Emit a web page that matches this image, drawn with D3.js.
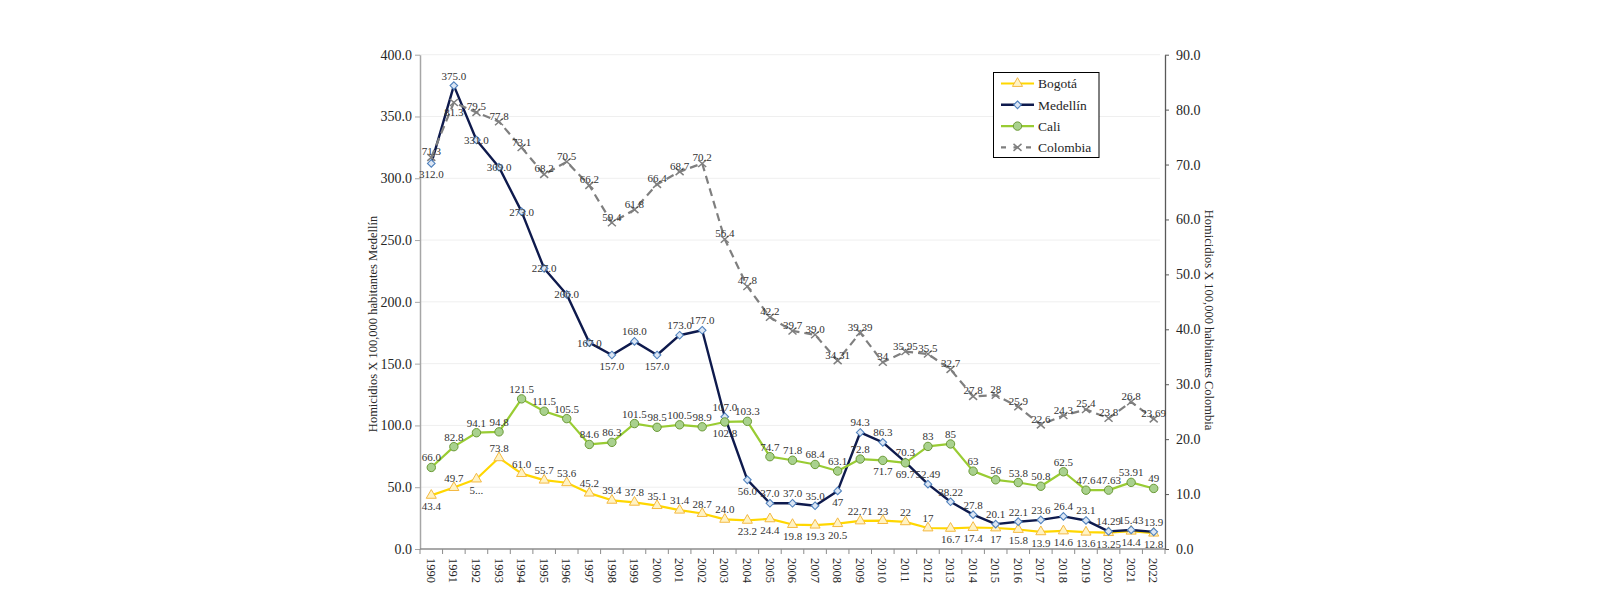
<!DOCTYPE html>
<html><head><meta charset="utf-8">
<script src="https://cdn.jsdelivr.net/npm/d3@7"></script>
<style>body{margin:0;background:#fff}text{font-family:"Liberation Serif","DejaVu Serif",serif}</style>
</head><body>
<svg id="c" width="1600" height="606"></svg>
<script>
const years = ["1990","1991","1992","1993","1994","1995","1996","1997","1998","1999","2000","2001","2002","2003","2004","2005","2006","2007","2008","2009","2010","2011","2012","2013","2014","2015","2016","2017","2018","2019","2020","2021","2022"];
const bogota   = [43.4,49.7,56.6,73.8,61.0,55.7,53.6,45.2,39.4,37.8,35.1,31.4,28.7,24.0,23.2,24.4,19.8,19.3,20.5,22.71,23,22,17,16.7,17.4,17,15.8,13.9,14.6,13.6,13.25,14.4,12.8];
const medellin = [312.0,375.0,331.0,309.0,273.0,227.0,206.0,167.0,157.0,168.0,157.0,173.0,177.0,107.0,56.0,37.0,37.0,35.0,47,94.3,86.3,70.3,52.49,38.22,27.8,20.1,22.1,23.6,26.4,23.1,14.29,15.43,13.9];
const cali     = [66.0,82.8,94.1,94.8,121.5,111.5,105.5,84.6,86.3,101.5,98.5,100.5,98.9,102.8,103.3,74.7,71.8,68.4,63.1,72.8,71.7,69.7,83,85,63,56,53.8,50.8,62.5,47.6,47.63,53.91,49];
const colombia = [71.3,81.3,79.5,77.8,73.1,68.2,70.5,66.2,59.4,61.8,66.4,68.7,70.2,56.4,47.8,42.2,39.7,39.0,34.31,39.39,34,35.95,35.5,32.7,27.8,28,25.9,22.6,24.3,25.4,23.8,26.8,23.69];
// last year whose label is shown with one fixed decimal
const bogotaFixedUntil = "2008", medellinFixedUntil = "2007", caliFixedUntil = "2011", colombiaFixedUntil = "2007";
const bogotaLabelOverride = {"1992":"5..."};
// label placement: a = above, b = below, c = centre
const bogotaPos   = ["b","a","b","a","a","a","a","a","a","a","a","a","a","a","b","b","b","b","b","a","a","a","a","b","b","b","b","b","b","b","b","b","b"];
const medellinPos = ["b","a","c","c","c","c","c","c","b","a","b","a","a","a","b","a","a","a","b","a","a","a","a","a","a","a","a","a","a","a","a","a","a"];
const caliPos     = ["a","a","a","a","a","a","a","a","a","a","a","a","a","b","a","a","a","a","a","a","b","b","a","a","a","a","a","a","a","a","a","a","a"];
const colombiaPos = ["a","b","a","a","a","a","a","a","a","a","a","a","a","a","a","a","a","a","a","a","a","a","a","a","a","a","a","a","a","a","a","a","a"];
const leftTicks  = [0,50,100,150,200,250,300,350,400];
const rightTicks = [0,10,20,30,40,50,60,70,80,90];
const seriesNames = ["Bogotá","Medellín","Cali","Colombia"];
const leftTitle  = "Homicidios X 100,000 habitantes Medellín";
const rightTitle = "Homicidios X 100,000 habitantes Colombia";

const svg = d3.select("#c");
const X0 = 420, X1 = 1165, YT = 54.7, YB = 549;
const x = d3.scaleBand().domain(years).range([X0, X1]);
const bw = x.bandwidth();
const cx = y => x(y) + bw/2;
const yL = d3.scaleLinear().domain([0,400]).range([YB, YT]);
const yR = d3.scaleLinear().domain([0,90]).range([YB, YT]);

// gridlines
svg.append("g").selectAll("line").data(leftTicks.filter(d=>d>0)).join("line")
  .attr("x1", X0).attr("x2", X1-5).attr("y1", d=>yL(d)).attr("y2", d=>yL(d))
  .attr("stroke", "#efefef").attr("stroke-width", 1);

// left axis
const gl = svg.append("g").attr("transform", `translate(${X0},0)`)
  .call(d3.axisLeft(yL).tickValues(leftTicks).tickFormat(d3.format(".1f")).tickSize(5).tickSizeOuter(0).tickPadding(3));
gl.select(".domain").attr("stroke", "#a6a6a6").attr("stroke-width", 1.5);
gl.selectAll(".tick line").attr("stroke", "#a6a6a6");
gl.selectAll("text").attr("font-size", 14).attr("fill", "#262626").style("font-family","Liberation Serif");

// right axis
const gr = svg.append("g").attr("transform", `translate(${X1},0)`)
  .call(d3.axisRight(yR).tickValues(rightTicks).tickFormat(d3.format(".1f")).tickSize(4).tickSizeOuter(0).tickPadding(7));
gr.select(".domain").attr("stroke", "#595959").attr("stroke-width", 1.3);
gr.selectAll(".tick line").attr("stroke", "#595959");
gr.selectAll("text").attr("font-size", 14).attr("fill", "#262626").style("font-family","Liberation Serif");

// bottom axis
const gb = svg.append("g");
gb.append("line").attr("x1", X0).attr("x2", X1).attr("y1", YB).attr("y2", YB).attr("stroke", "#8c8c8c").attr("stroke-width", 1.5);
const bounds = years.map(y => x(y)).concat([X1]);
gb.selectAll("line.t").data(bounds).join("line").attr("class","t")
  .attr("x1", d=>d).attr("x2", d=>d).attr("y1", YB).attr("y2", YB+5).attr("stroke", "#8c8c8c");
gb.selectAll("text").data(years).join("text")
  .attr("transform", d => `translate(${cx(d)},${YB+9}) rotate(90)`)
  .attr("dy", "0.35em").attr("text-anchor", "start")
  .attr("font-size", 12.5).attr("fill", "#262626").text(d=>d);

// axis titles
svg.append("text").attr("transform", "translate(373,324) rotate(-90)").attr("text-anchor","middle")
  .attr("dy","0.35em").attr("font-size", 12.5).attr("fill","#262626").text(leftTitle);
svg.append("text").attr("transform", "translate(1209,320) rotate(90)").attr("text-anchor","middle")
  .attr("dy","0.35em").attr("font-size", 12.5).attr("fill","#262626").text(rightTitle);

const series = [
  {name: seriesNames[0], vals: bogota, pos: bogotaPos, y: yL, color: "#FFD700", width: 2.2, fixed: bogotaFixedUntil, over: bogotaLabelOverride, marker: "tri", dash: null},
  {name: seriesNames[1], vals: medellin, pos: medellinPos, y: yL, color: "#0E1A4D", width: 2.4, fixed: medellinFixedUntil, over: {}, marker: "dia", dash: null},
  {name: seriesNames[2], vals: cali, pos: caliPos, y: yL, color: "#99CC33", width: 2.2, fixed: caliFixedUntil, over: {}, marker: "cir", dash: null},
  {name: seriesNames[3], vals: colombia, pos: colombiaPos, y: yR, color: "#7F7F7F", width: 2.2, fixed: colombiaFixedUntil, over: {}, marker: "x", dash: "8,5"}
];

function drawMarker(g, type, px, py) {
  if (type === "tri") {
    g.append("path").attr("d", d3.symbol(d3.symbolTriangle, 44)()).attr("transform", `translate(${px},${py})`)
      .attr("fill", "#FFF3C4").attr("stroke", "#F4B942").attr("stroke-width", 1);
  } else if (type === "dia") {
    g.append("path").attr("d", "M0,-3.8L3.8,0L0,3.8L-3.8,0Z").attr("transform", `translate(${px},${py})`)
      .attr("fill", "#DCE6F4").attr("stroke", "#4F81BD").attr("stroke-width", 1.1);
  } else if (type === "cir") {
    g.append("circle").attr("cx", px).attr("cy", py).attr("r", 4.2)
      .attr("fill", "#A9D18E").attr("stroke", "#6A9A35").attr("stroke-width", 1);
  } else {
    g.append("path").attr("d", "M-4,-3.5L4,3.5M-4,3.5L4,-3.5").attr("transform", `translate(${px},${py})`)
      .attr("fill", "none").attr("stroke", "#7F7F7F").attr("stroke-width", 1.5);
  }
}

const line = d3.line();
series.forEach(s => {
  const pts = years.map((yr,i) => [cx(yr), s.y(s.vals[i])]);
  svg.append("path").attr("d", line(pts)).attr("fill","none").attr("stroke", s.color)
    .attr("stroke-width", s.width).attr("stroke-dasharray", s.dash).attr("stroke-linejoin","round");
  const mg = svg.append("g");
  pts.forEach(p => drawMarker(mg, s.marker, p[0], p[1]));
});

// data labels
series.forEach(s => {
  const g = svg.append("g");
  years.forEach((yr,i) => {
    const v = s.vals[i];
    let txt = s.over[yr] !== undefined ? s.over[yr] : (yr <= s.fixed ? v.toFixed(1) : String(v));
    const px = cx(yr), py = s.y(v);
    const p = s.pos[i];
    let ty;
    if (s.marker === "x") ty = p === "a" ? py - 2 : py + 14;
    else ty = p === "a" ? py - 6 : (p === "b" ? py + 15 : py + 4);
    g.append("text").attr("x", px).attr("y", ty).attr("text-anchor","middle")
      .attr("font-size", 11).attr("fill", "#333").text(txt);
  });
});

// legend
const lg = svg.append("g");
lg.append("rect").attr("x", 993.5).attr("y", 72.5).attr("width", 105.5).attr("height", 85)
  .attr("fill", "#fff").attr("stroke", "#000").attr("stroke-width", 1);
series.forEach((s,i) => {
  const ly = 83.5 + i*21.3;
  lg.append("line").attr("x1", 1001).attr("x2", 1034).attr("y1", ly).attr("y2", ly)
    .attr("stroke", s.color).attr("stroke-width", s.width).attr("stroke-dasharray", s.dash ? "5,7.5" : null);
  drawMarker(lg, s.marker, 1017.5, ly);
  lg.append("text").attr("x", 1038).attr("y", ly).attr("dy","0.35em").attr("font-size", 13.5)
    .attr("fill","#262626").text(s.name);
});
</script>
</body></html>
